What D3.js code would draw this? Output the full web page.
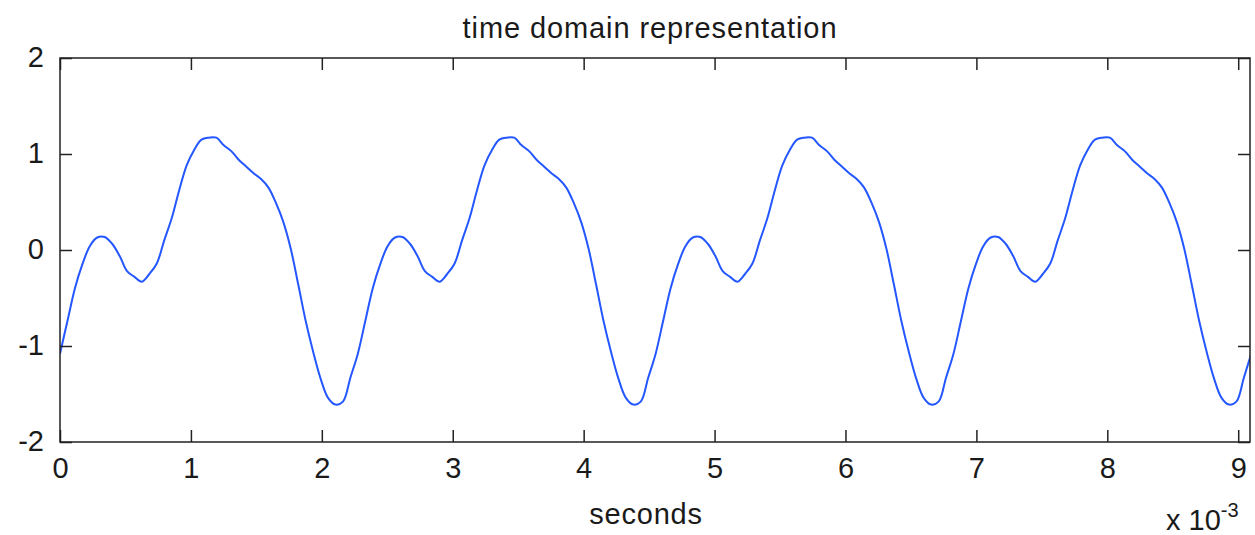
<!DOCTYPE html>
<html>
<head>
<meta charset="utf-8">
<script src="https://cdn.jsdelivr.net/npm/d3@7/dist/d3.min.js"></script>
<style>
  html, body { margin: 0; padding: 0; background: #fff; }
  svg { display: block; }
  text { font-family: "Liberation Sans", Arial, Helvetica, sans-serif; fill: #1a1a1a; }
</style>
</head>
<body>
<svg id="chart" width="1255" height="535"></svg>
<script>
// Time axis, in milliseconds (axis shows x 10^-3 seconds)
const tStart = 0;
const tStep = 0.056875;           // sample spacing, ms
const xTicks = [0, 1, 2, 3, 4, 5, 6, 7, 8, 9];
const yTicks = [-2, -1, 0, 1, 2];
const xDomain = [0, 9.09];
const yDomain = [-2, 2];

// Signal amplitude at each sample
const signal = [
  -1.08, -0.74, -0.40, -0.15, 0.04, 0.13, 0.135, 0.065, -0.06, -0.22,
  -0.28, -0.33, -0.25, -0.14, 0.10, 0.33, 0.62, 0.88, 1.04, 1.15,
  1.17, 1.17, 1.09, 1.03, 0.94, 0.87, 0.80, 0.74, 0.65, 0.49,
  0.29, 0.01, -0.36, -0.74, -1.06, -1.34, -1.54, -1.61, -1.58, -1.33,

  -1.08, -0.74, -0.40, -0.15, 0.04, 0.13, 0.135, 0.065, -0.06, -0.22,
  -0.28, -0.33, -0.25, -0.14, 0.10, 0.33, 0.62, 0.88, 1.04, 1.15,
  1.17, 1.17, 1.09, 1.03, 0.94, 0.87, 0.80, 0.74, 0.65, 0.49,
  0.29, 0.01, -0.36, -0.74, -1.06, -1.34, -1.54, -1.61, -1.58, -1.33,

  -1.08, -0.74, -0.40, -0.15, 0.04, 0.13, 0.135, 0.065, -0.06, -0.22,
  -0.28, -0.33, -0.25, -0.14, 0.10, 0.33, 0.62, 0.88, 1.04, 1.15,
  1.17, 1.17, 1.09, 1.03, 0.94, 0.87, 0.80, 0.74, 0.65, 0.49,
  0.29, 0.01, -0.36, -0.74, -1.06, -1.34, -1.54, -1.61, -1.58, -1.33,

  -1.08, -0.74, -0.40, -0.15, 0.04, 0.13, 0.135, 0.065, -0.06, -0.22,
  -0.28, -0.33, -0.25, -0.14, 0.10, 0.33, 0.62, 0.88, 1.04, 1.15,
  1.17, 1.17, 1.09, 1.03, 0.94, 0.87, 0.80, 0.74, 0.65, 0.49,
  0.29, 0.01, -0.36, -0.74, -1.06, -1.34, -1.54, -1.61, -1.58, -1.33,

  -1.08
];

const titleText = "time domain representation";
const xLabelText = "seconds";

const svg = d3.select("#chart");
const plot = { left: 60, right: 1250, top: 58, bottom: 442 };
const tickLen = 12;
const fontSize = 29;
const plainNumber = d => String(d);   // ASCII hyphen for negatives

const x = d3.scaleLinear().domain(xDomain).range([plot.left, plot.right]);
const y = d3.scaleLinear().domain(yDomain).range([plot.bottom, plot.top]);

const points = signal.map((v, i) => ({ t: tStart + i * tStep, v }));

// clip region for the trace
svg.append("defs").append("clipPath").attr("id", "plotClip")
  .append("rect")
  .attr("x", plot.left).attr("y", plot.top)
  .attr("width", plot.right - plot.left)
  .attr("height", plot.bottom - plot.top);

// signal trace
const line = d3.line()
  .x(d => x(d.t))
  .y(d => y(d.v))
  .curve(d3.curveCatmullRom.alpha(0.5));

svg.append("path")
  .datum(points)
  .attr("clip-path", "url(#plotClip)")
  .attr("fill", "none")
  .attr("stroke", "#2457ff")
  .attr("stroke-width", 2)
  .attr("stroke-linejoin", "round")
  .attr("d", line);

// axes: bottom/left carry labels, top/right mirror the ticks (boxed axes, ticks inward)
const axisStyle = g => {
  g.select(".domain").remove();
  g.selectAll(".tick line").attr("stroke", "#222").attr("stroke-width", 1.5);
  g.selectAll(".tick text")
    .style("font-size", fontSize + "px")
    .style("font-family", '"Liberation Sans", Arial, sans-serif')
    .attr("fill", "#1a1a1a");
};

const xAxisBottom = svg.append("g")
  .attr("transform", `translate(0,${plot.bottom})`)
  .call(d3.axisBottom(x).tickValues(xTicks).tickFormat(plainNumber)
    .tickSizeInner(-tickLen).tickSizeOuter(0).tickPadding(0))
  .call(axisStyle);
xAxisBottom.selectAll(".tick text")
  .attr("y", 36).attr("dy", null);

svg.append("g")
  .attr("transform", `translate(0,${plot.top})`)
  .call(d3.axisTop(x).tickValues(xTicks).tickFormat("")
    .tickSizeInner(-tickLen).tickSizeOuter(0))
  .call(axisStyle);

const yAxisLeft = svg.append("g")
  .attr("transform", `translate(${plot.left},0)`)
  .call(d3.axisLeft(y).tickValues(yTicks).tickFormat(plainNumber)
    .tickSizeInner(-tickLen).tickSizeOuter(0).tickPadding(0))
  .call(axisStyle);
yAxisLeft.selectAll(".tick text")
  .attr("x", -16).attr("y", 8).attr("dy", null)
  .attr("text-anchor", "end");

svg.append("g")
  .attr("transform", `translate(${plot.right},0)`)
  .call(d3.axisRight(y).tickValues(yTicks).tickFormat("")
    .tickSizeInner(-tickLen).tickSizeOuter(0))
  .call(axisStyle);

// plot box
svg.append("rect")
  .attr("x", plot.left).attr("y", plot.top)
  .attr("width", plot.right - plot.left)
  .attr("height", plot.bottom - plot.top)
  .attr("fill", "none")
  .attr("stroke", "#222")
  .attr("stroke-width", 1.5);

// title
svg.append("text")
  .attr("x", 650).attr("y", 38)
  .attr("text-anchor", "middle")
  .style("font-size", fontSize + "px")
  .style("letter-spacing", "0.9px")
  .text(titleText);

// x axis label
svg.append("text")
  .attr("x", 646).attr("y", 524)
  .attr("text-anchor", "middle")
  .style("font-size", fontSize + "px")
  .style("letter-spacing", "0.8px")
  .text(xLabelText);

// exponent multiplier for the time axis
const expo = svg.append("text")
  .attr("x", 1166).attr("y", 530)
  .style("font-size", fontSize + "px");
expo.append("tspan").text("x 10");
expo.append("tspan")
  .attr("dy", -13)
  .style("font-size", "20px")
  .text("-3");
</script>
</body>
</html>
